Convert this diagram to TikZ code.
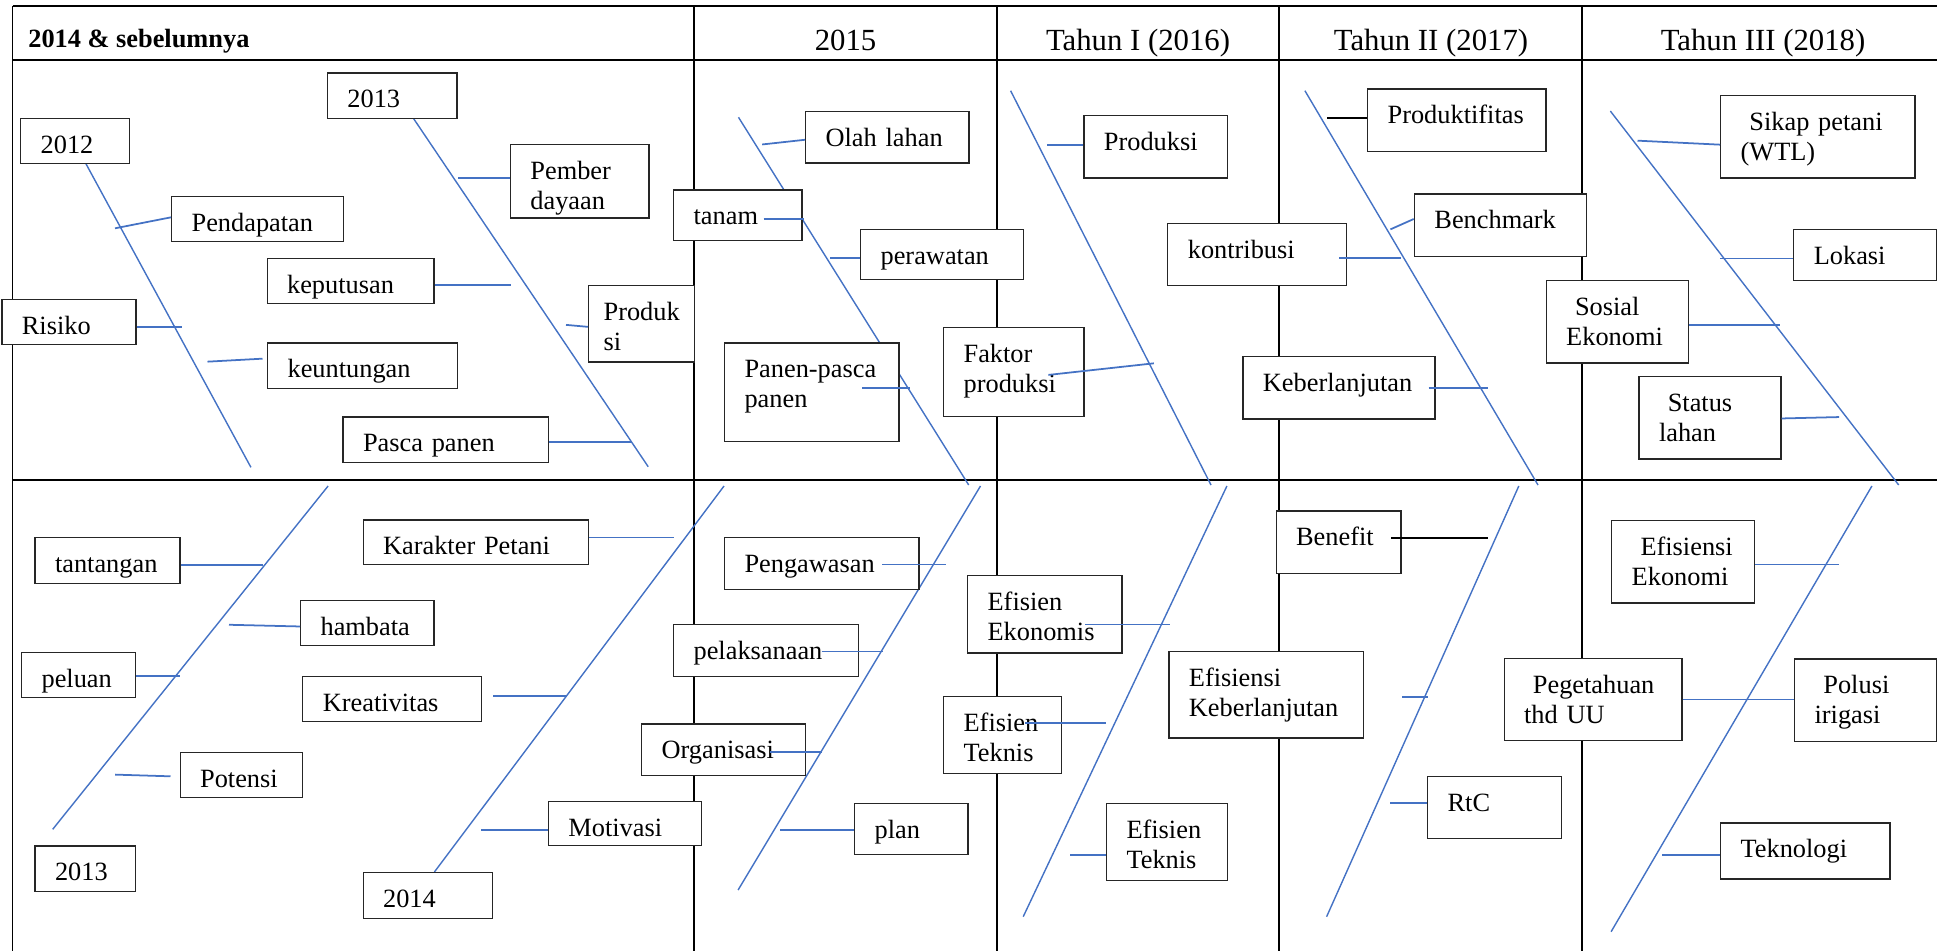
\documentclass[tikz,border=0pt]{standalone}
\usepackage{fontspec}
\setmainfont{Liberation Serif}
\usetikzlibrary{calc}
\definecolor{bone}{RGB}{68,114,196}

\begin{document}
\begin{tikzpicture}[x=0.02cm,y=-0.02cm,
  tabline/.style={line width=1.1pt},
  head/.style={anchor=base,inner sep=0pt,font=\fontsize{17.5}{20}\selectfont},
  box/.style={draw=black!85,line width=0.7pt,fill=white,anchor=north west,
    align=left,inner xsep=0.4cm,inner ysep=0pt,text height=0.7cm,
    font=\fontsize{15}{17}\selectfont},
  spine/.style={bone,line width=0.8pt},
  rib/.style={bone,line width=1pt},
  ribk/.style={black,line width=1pt}]

\useasboundingbox (0,0) rectangle (1937,951);

\draw[tabline] (12.5,6) -- (1937,6);
\draw[tabline] (12.5,60) -- (1937,60);
\draw[tabline] (12.5,480) -- (1937,480);
\foreach \cx in {12.5,694,997,1279,1582}
  \draw[tabline] (\cx,6) -- (\cx,951);

\node[head,anchor=base west,font=\fontsize{15}{17}\selectfont\bfseries] (h14) at (28,47) {2014 \& sebelumnya};
\node[head] (h15) at (845.5,50) {2015};
\node[head] (h16) at (1138,50) {Tahun I (2016)};
\node[head] (h17) at (1431,50) {Tahun II (2017)};
\node[head] (h18) at (1763,50) {Tahun III (2018)};

\draw[spine] (85.7,163.3) -- (250.9,467.3);
\draw[spine] (413,117.7) -- (648.2,466.7);
\draw[spine] (328.1,486) -- (52.7,829.3);
\draw[spine] (434.4,872) -- (724,486);
\draw[spine] (738.5,117.3) -- (968.7,485);
\draw[spine] (980.5,486) -- (738.1,890);
\draw[spine] (1010.6,90.7) -- (1211,485);
\draw[spine] (1226.9,486) -- (1023.2,916.7);
\draw[spine] (1304.9,90.7) -- (1538,485);
\draw[spine] (1518.8,486) -- (1326.6,916.7);
\draw[spine] (1610.3,111) -- (1898.7,485);
\draw[spine] (1871.9,486) -- (1611.1,931.7);

\node[box,text width=1.38cm,text depth=0.21cm] (yr12) at (20.1,117.7) {2012};
\node[box,text width=1.79cm,text depth=0.21cm] (yr13) at (326.8,72.3) {2013};
\node[box,text width=2.64cm,text depth=0.20cm] (pend) at (171,195.7) {Pendapatan};
\node[box,text width=2.54cm,text depth=0.21cm] (kepu) at (266.5,257.7) {keputusan};
\node[box,text width=1.88cm,text depth=0.20cm] (risk) at (1.3,298.7) {Risiko};
\node[box,text width=3.00cm,text depth=0.21cm] (keun) at (267,342.3) {keuntungan};
\node[box,text width=3.31cm,text depth=0.21cm] (pasc) at (342.4,416.3) {Pasca panen};
\node[box,text width=1.97cm,text depth=0.77cm] (pemb) at (509.8,144) {Pember\\dayaan};
\node[box,inner xsep=0.3cm,text width=1.52cm,text depth=0.83cm] (prod13) at (588,285) {Produk\\si};

\node[box,text width=2.10cm,text depth=0.21cm] (tant) at (34.4,537) {tantangan};
\node[box,text width=1.87cm,text depth=0.21cm] (hamb) at (300,599.7) {hambata};
\node[box,text width=1.48cm,text depth=0.21cm] (pelu) at (21,651.7) {peluan};
\node[box,text width=1.65cm,text depth=0.20cm] (pote) at (179.5,751.7) {Potensi};
\node[box,text width=1.21cm,text depth=0.21cm] (yr13b) at (34.4,845.3) {2013};
\node[box,text width=3.71cm,text depth=0.19cm] (kara) at (362.5,519.3) {Karakter Petani};
\node[box,text width=2.77cm,text depth=0.20cm] (krea) at (302.2,675.7) {Kreativitas};
\node[box,text width=2.26cm,text depth=0.19cm] (moti) at (547.8,800.7) {Motivasi};
\node[box,text width=1.79cm,text depth=0.21cm] (yr14) at (362.5,872) {2014};

\node[box,text width=2.47cm,text depth=0.33cm] (olah) at (805,111) {Olah lahan};
\node[box,text width=1.77cm,text depth=0.31cm] (tanm) at (673,189.3) {tanam};
\node[box,text width=2.46cm,text depth=0.31cm] (pera) at (860,228.7) {perawatan};
\node[box,text width=2.69cm,text depth=1.27cm] (pane) at (723.9,342.3) {\mbox{Panen-pasca}\\panen};
\node[box,text width=2.01cm,text depth=1.08cm] (fakt) at (943,327) {Faktor\\produksi};
\node[box,text width=2.07cm,text depth=0.55cm] (prod16) at (1083.3,115) {Produksi};
\node[box,text width=2.77cm,text depth=0.55cm] (kont) at (1167.2,222.7) {kontribusi};
\node[box,text width=3.04cm,text depth=0.55cm] (kebe) at (1242.3,356) {Keberlanjutan};
\node[box,text width=2.77cm,text depth=0.55cm] (prdk) at (1367,88.3) {Produktifitas};
\node[box,text width=2.64cm,text depth=0.55cm] (benc) at (1413.8,193.3) {Benchmark};
\node[box,text width=3.09cm,text depth=0.95cm] (sika) at (1720,95) {\ Sikap petani\\(WTL)};
\node[box,text width=2.06cm,text depth=0.33cm] (loka) at (1793.2,228.7) {Lokasi};
\node[box,text width=2.05cm,text depth=0.95cm] (sosi) at (1545.6,280) {\ Sosial\\Ekonomi};
\node[box,text width=2.04cm,text depth=0.95cm] (stat) at (1638.4,376) {\ Status\\lahan};

\node[box,text width=3.09cm,text depth=0.33cm] (peng) at (723.9,537) {Pengawasan};
\node[box,text width=2.90cm,text depth=0.33cm] (pela) at (673,624) {pelaksanaan};
\node[box,text width=2.48cm,text depth=0.33cm] (orga) at (641,723.3) {Organisasi};
\node[box,text width=1.47cm,text depth=0.33cm] (plan) at (854,802.7) {plan};
\node[box,text width=2.29cm,text depth=0.85cm] (efek) at (967,575) {Efisien\\Ekonomis};
\node[box,text width=1.56cm,text depth=0.85cm] (eft1) at (943,695.7) {Efisien\\Teknis};
\node[box,text width=1.62cm,text depth=0.85cm] (eft2) at (1105.9,802.7) {Efisien\\Teknis};
\node[box,text width=3.09cm,text depth=1.03cm] (efkb) at (1168.3,651) {Efisiensi\\Keberlanjutan};
\node[box,text width=1.70cm,text depth=0.55cm] (bene) at (1275.5,510.3) {Benefit};
\node[box,text width=1.88cm,text depth=0.55cm] (rtc) at (1427,775.7) {RtC};
\node[box,text width=2.05cm,text depth=0.95cm] (efeo) at (1611.1,520) {\ Efisiensi\\Ekonomi};
\node[box,text width=2.76cm,text depth=0.95cm] (pege) at (1503.5,657.7) {\ Pegetahuan\\thd UU};
\node[box,text width=2.04cm,text depth=0.95cm] (polu) at (1794,658.3) {\ Polusi\\irigasi};
\node[box,text width=2.59cm,text depth=0.42cm] (tekn) at (1720,822.3) {Teknologi};

\draw[rib] ($(pend.west)+(0,-1.5)$) -- ++(-56,11);
\draw[rib] ($(kepu.east)+(0,4)$) -- ++(76,0);
\draw[rib] ($(risk.east)+(0,5)$) -- ++(45,0);
\draw[rib] ($(keun.west)+(-4.5,-7)$) -- ++(-55,3);
\draw[rib] ($(pasc.east)+(0,2)$) -- ++(82,0);
\draw[rib] ($(pemb.west)+(0,-3.5)$) -- ++(-52,0);
\draw[rib] ($(prod13.west)+(0,3)$) -- ++(-22,-2);

\draw[rib] ($(tant.east)+(0,4.3)$) -- ++(82.5,0);
\draw[rib] ($(hamb.west)+(0,3.4)$) -- ++(-71,-1.7);
\draw[rib] ($(pelu.east)+(0,1)$) -- ++(44,0);
\draw[rib] ($(pote.west)+(-9,1.5)$) -- ++(-55.3,-1.7);
\draw[rib] ($(kara.east)+(0,-4.7)$) -- ++(85,0);
\draw[rib] ($(krea.east)+(11.2,-2.5)$) -- ++(74,0);
\draw[rib] ($(moti.west)+(0,6.4)$) -- ++(-66.5,0);

\draw[rib] ($(olah.west)+(0,2.4)$) -- ++(-42.8,4.7);
\draw[rib] ($(tanm.east)+(-39.2,3.6)$) -- ++(40.4,0);
\draw[rib] ($(pera.west)+(0,3.7)$) -- ++(-30.5,0);
\draw[rib] ($(pane.east)+(-37.6,-3.8)$) -- ++(47.8,0);
\draw[rib] ($(fakt.east)+(-36.3,2.8)$) -- ++(105.5,-11.6);
\draw[rib] ($(prod16.west)+(0,-2.2)$) -- ++(-36.3,0);
\draw[rib] ($(kont.east)+(-7.7,3.7)$) -- ++(61.7,0);
\draw[rib] ($(kebe.east)+(-6.8,0.5)$) -- ++(59.5,0);
\draw[ribk] ($(prdk.west)+(0,-2.2)$) -- ++(-40.4,0);
\draw[rib] ($(benc.west)+(0,-6.2)$) -- ++(-23.4,10.4);
\draw[rib] ($(sika.west)+(0,7.8)$) -- ++(-82.5,-4);
\draw[rib] ($(loka.west)+(0,3.4)$) -- ++(-73.2,0);
\draw[rib] ($(sosi.east)+(0,3)$) -- ++(91.1,0);
\draw[rib] ($(stat.east)+(0,0.6)$) -- ++(57.4,-1.4);

\draw[rib] ($(peng.east)+(-37.5,1.1)$) -- ++(64.1,0);
\draw[rib] ($(pela.east)+(-37.6,1.2)$) -- ++(61.3,0);
\draw[rib] ($(orga.east)+(-36,2.7)$) -- ++(51.4,0);
\draw[rib] ($(plan.west)+(0,0.8)$) -- ++(-74,0);
\draw[rib] ($(efek.east)+(-37.3,10.1)$) -- ++(85,0);
\draw[rib] ($(eft1.east)+(-37.2,-12.2)$) -- ++(81,0);
\draw[rib] ($(eft2.west)+(0,13.3)$) -- ++(-35.6,0);
\draw[rib] ($(efkb.east)+(38.3,1.9)$) -- ++(25.5,0);
\draw[ribk] ($(bene.east)+(-10.6,-4.5)$) -- ++(96.9,0);
\draw[rib] ($(rtc.west)+(0,-4.3)$) -- ++(-37,0);
\draw[rib] ($(efeo.east)+(0,2.7)$) -- ++(84.2,0);
\draw[rib] (pege.east) -- (pege.east -| polu.west);
\draw[rib] ($(tekn.west)+(0,4.4)$) -- ++(-57.8,0);
\end{tikzpicture}
\end{document}
